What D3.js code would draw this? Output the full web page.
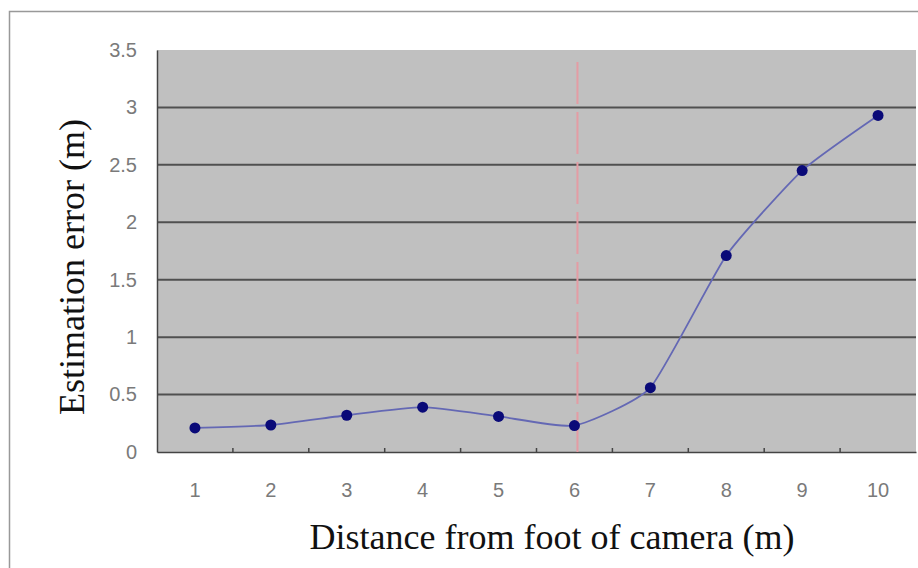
<!DOCTYPE html>
<html>
<head>
<meta charset="utf-8">
<script src="https://cdn.jsdelivr.net/npm/d3@7"></script>
<style>
  body { margin: 0; background: #fff; }
</style>
</head>
<body>
<div id="chart"></div>
<script>
// distance categories and estimation error values
var distances = [1, 2, 3, 4, 5, 6, 7, 8, 9, 10];
var errors = [0.21, 0.235, 0.32, 0.39, 0.31, 0.23, 0.56, 1.71, 2.45, 2.93];
var yTicks = [0, 0.5, 1, 1.5, 2, 2.5, 3, 3.5];
var yTickLabels = ["0", "0.5", "1", "1.5", "2", "2.5", "3", "3.5"];
var markerAt = 6;

var W = 918, H = 568;
var margin = {top: 50, right: 2, bottom: 116, left: 157},
    width = W - margin.left - margin.right,
    height = H - margin.top - margin.bottom;

var svg = d3.select("#chart")
  .append("svg")
    .attr("width", W)
    .attr("height", H);

// outer frame
svg.append("rect")
  .attr("x", 9.5).attr("y", 11.5)
  .attr("width", W).attr("height", H)
  .attr("fill", "none")
  .attr("stroke", "#999")
  .attr("stroke-width", 1.5);

var g = svg.append("g")
  .attr("transform", "translate(" + margin.left + "," + margin.top + ")");

var x = d3.scaleBand()
  .domain(distances)
  .range([0, width]);

var y = d3.scaleLinear()
  .domain([0, 3.5])
  .range([height, 0]);

// plot background
g.append("rect")
  .attr("width", width)
  .attr("height", height)
  .attr("fill", "#c0c0c0");

// gridlines
g.append("g")
  .selectAll("line")
  .data(yTicks.filter(function (d) { return d > 0 && d < 3.5; }))
  .enter()
  .append("line")
    .attr("x1", 0)
    .attr("x2", width)
    .attr("y1", function (d) { return y(d); })
    .attr("y2", function (d) { return y(d); })
    .attr("stroke", "#505050")
    .attr("stroke-width", 2);

// Y axis
var yAxis = g.append("g")
  .call(d3.axisLeft(y)
    .tickValues(yTicks)
    .tickFormat(function (d, i) { return yTickLabels[i]; })
    .tickSize(0)
    .tickPadding(20));
yAxis.select(".domain").attr("stroke", "#444").attr("stroke-width", 1.5);
yAxis.selectAll("text")
  .attr("fill", "#7a7a7a")
  .style("font-family", "Liberation Sans, Arial, sans-serif")
  .style("font-size", "20px");

// X axis
var xAxis = g.append("g")
  .attr("transform", "translate(0," + height + ")")
  .call(d3.axisBottom(x).tickSize(0).tickPadding(31));
xAxis.select(".domain").attr("stroke", "#444").attr("stroke-width", 1.5);
xAxis.selectAll("text")
  .attr("fill", "#7a7a7a")
  .style("font-family", "Liberation Sans, Arial, sans-serif")
  .style("font-size", "20px");

// small inward ticks between categories
g.append("g")
  .selectAll("line")
  .data(distances.slice(1))
  .enter()
  .append("line")
    .attr("x1", function (d) { return x(d); })
    .attr("x2", function (d) { return x(d); })
    .attr("y1", height)
    .attr("y2", height - 4)
    .attr("stroke", "#444")
    .attr("stroke-width", 1.5);

// dashed red marker line
g.append("line")
  .attr("x1", x(markerAt) + x.bandwidth() / 2 + 3)
  .attr("x2", x(markerAt) + x.bandwidth() / 2 + 3)
  .attr("y1", 12)
  .attr("y2", height)
  .attr("stroke", "#e49ca4")
  .attr("stroke-width", 2)
  .attr("stroke-dasharray", "42,8");

// smoothed line
var line = d3.line()
  .x(function (d, i) { return x(distances[i]) + x.bandwidth() / 2; })
  .y(function (d) { return y(d); })
  .curve(d3.curveCardinal.tension(0.5));

g.append("path")
  .datum(errors)
  .attr("fill", "none")
  .attr("stroke", "#6468b4")
  .attr("stroke-width", 1.8)
  .attr("d", line);

// markers
g.append("g")
  .selectAll("circle")
  .data(errors)
  .enter()
  .append("circle")
    .attr("cx", function (d, i) { return x(distances[i]) + x.bandwidth() / 2; })
    .attr("cy", function (d) { return y(d); })
    .attr("r", 5.5)
    .attr("fill", "#0a0a78");

// axis titles
svg.append("text")
  .attr("x", 552)
  .attr("y", 549)
  .attr("text-anchor", "middle")
  .style("font-family", "Liberation Serif, Times New Roman, serif")
  .style("font-size", "36px")
  .attr("fill", "#111")
  .text("Distance from foot of camera (m)");

svg.append("text")
  .attr("transform", "translate(84," + 267 + ") rotate(-90)")
  .attr("text-anchor", "middle")
  .style("font-family", "Liberation Serif, Times New Roman, serif")
  .style("font-size", "36px")
  .attr("fill", "#111")
  .text("Estimation error (m)");
</script>
</body>
</html>
